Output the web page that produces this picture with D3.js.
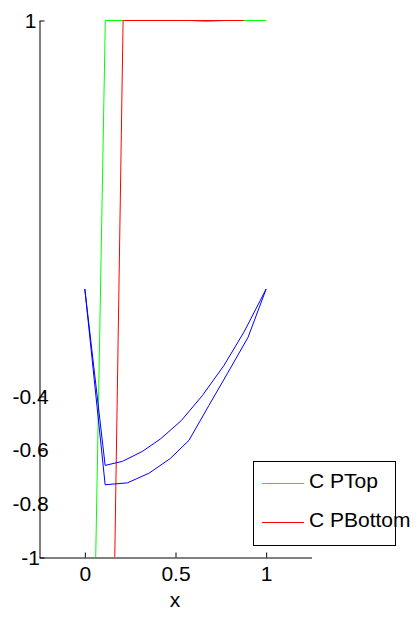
<!DOCTYPE html>
<html>
<head>
<meta charset="utf-8">
<script src="https://cdn.jsdelivr.net/npm/d3@7"></script>
<style>
  body { margin: 0; background: #fff; }
  svg { display: block; font-family: "Liberation Sans", Arial, sans-serif; }
</style>
</head>
<body>
<div id="chart"></div>
<script>
// values
var topX = [0.06, 0.113, 0.58, 0.67, 0.78, 1];
var topY = [-1, 1, 1, 0.996, 1, 1];

var bottomX = [0.165, 0.211, 0.877];
var bottomY = [-1, 1, 1];

var blueAX = [0, 0.112, 0.207, 0.317, 0.418, 0.532, 0.648, 0.767, 0.877, 1];
var blueAY = [0, -0.657, -0.642, -0.605, -0.558, -0.49, -0.397, -0.285, -0.161, 0];

var blueBX = [0, 0.112, 0.235, 0.354, 0.47, 0.574, 0.684, 0.785, 0.9, 1];
var blueBY = [0, -0.729, -0.722, -0.686, -0.632, -0.564, -0.434, -0.316, -0.18, 0];

var xTicks = [0, 0.5, 1];
var yTicks = [-1, -0.8, -0.6, -0.4, 1];
var legendNames = ["C PTop", "C PBottom"];
var legendColors = ["#00ff00", "#ff0000"];

var width = 416, height = 617;
var fontSize = 21;

var svg = d3.select("#chart").append("svg")
    .attr("width", width)
    .attr("height", height);

var x = d3.scaleLinear().domain([-0.25, 1.25]).range([39, 311]);
var y = d3.scaleLinear().domain([-1, 1]).range([557, 20]);

svg.append("clipPath").attr("id", "plot")
  .append("rect")
    .attr("x", 39).attr("y", 19)
    .attr("width", 272).attr("height", 538);

function zip(xs, ys) {
  return xs.map(function(v, i) { return [v, ys[i]]; });
}

var line = d3.line()
    .x(function(d) { return x(d[0]); })
    .y(function(d) { return y(d[1]); });

var series = [
  { pts: zip(topX, topY), color: "#00ff00" },
  { pts: zip(bottomX, bottomY), color: "#ff0000" },
  { pts: zip(blueAX, blueAY), color: "#0000ff" },
  { pts: zip(blueBX, blueBY), color: "#0000ff" }
];

svg.append("g").attr("clip-path", "url(#plot)")
  .append("g").attr("transform", "translate(0.5,0.5)")
  .selectAll("path")
  .data(series)
  .enter().append("path")
    .attr("fill", "none")
    .attr("stroke", function(d) { return d.color; })
    .attr("stroke-width", 1)
    .attr("d", function(d) { return line(d.pts); });

// axes
var xAxis = svg.append("g")
    .attr("transform", "translate(0.5,557.5)")
    .call(d3.axisBottom(x).tickValues(xTicks).tickFormat(d3.format("")).tickSizeInner(-5).tickSizeOuter(0).tickPadding(9));

var yAxis = svg.append("g")
    .attr("transform", "translate(39.5,0.5)")
    .call(d3.axisLeft(y).tickValues(yTicks).tickFormat(function(d) { return String(d); }).tickSizeInner(-5).tickSizeOuter(0));

yAxis.selectAll("text")
    .attr("x", -9)
    .attr("text-anchor", "middle");

svg.selectAll(".tick text")
    .attr("font-size", fontSize)
    .attr("font-family", "Liberation Sans, Arial, sans-serif")
    .attr("fill", "#000");
svg.selectAll(".domain, .tick line").attr("stroke", "#000");

svg.append("text")
    .attr("x", x(0.5))
    .attr("y", 607)
    .attr("text-anchor", "middle")
    .attr("font-size", fontSize)
    .text("x");

// legend
var legend = svg.append("g");
legend.append("rect")
    .attr("x", 253.5).attr("y", 461.5)
    .attr("width", 142).attr("height", 84)
    .attr("fill", "#fff")
    .attr("stroke", "#000");

var items = legendNames.map(function(n, i) { return { name: n, color: legendColors[i] }; });

var item = legend.selectAll(".item")
    .data(items)
    .enter().append("g")
    .attr("class", "item")
    .attr("transform", function(d, i) { return "translate(0," + (483 + i * 39) + ")"; });

item.append("line")
    .attr("x1", 262).attr("x2", 304)
    .attr("y1", 0.5).attr("y2", 0.5)
    .attr("stroke", function(d) { return d.color; });

item.append("text")
    .attr("x", 309)
    .attr("y", 5)
    .attr("font-size", fontSize)
    .text(function(d) { return d.name; });
</script>
</body>
</html>
